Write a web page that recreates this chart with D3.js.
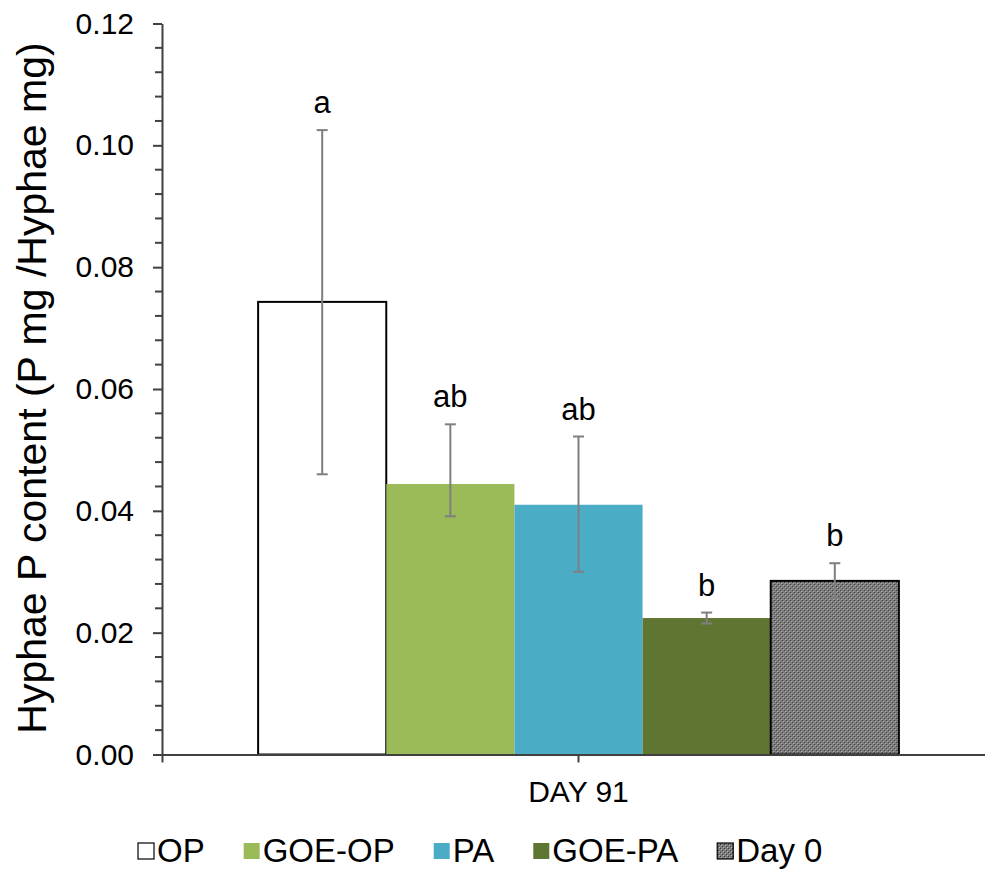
<!DOCTYPE html>
<html>
<head>
<meta charset="utf-8">
<script src="https://cdn.jsdelivr.net/npm/d3@7"></script>
<style>
  body { margin: 0; background: #fff; }
  text { font-family: "Liberation Sans", Arial, sans-serif; fill: #000; }
</style>
</head>
<body>
<div id="chart"></div>
<script>
// data
const category = 'DAY 91';
const series = ['OP', 'GOE-OP', 'PA', 'GOE-PA', 'Day 0'];
const means = [0.0743, 0.0444, 0.0410, 0.0224, 0.0285];
const errUp = [0.0282, 0.0098, 0.0112, 0.0009, 0.0029];
const errDown = [0.0283, 0.0053, 0.0110, 0.0009, 0.0028];
const letters = ['a', 'ab', 'ab', 'b', 'b'];
const yTicks = [0, 0.02, 0.04, 0.06, 0.08, 0.10, 0.12];

const colors = ['#ffffff', '#9bbb59', '#4bacc6', '#5f7532', 'url(#dots)'];
const strokes = ['#000', 'none', 'none', 'none', '#000'];

const width = 985;
const height = 870;
const margin = { top: 23.5, right: -10, bottom: 115.5, left: 162 };

const svg = d3.select('#chart')
  .append('svg')
  .attr('width', width)
  .attr('height', height);

// fine grey dotted fill for Day 0
const pat = svg.append('defs').append('pattern')
  .attr('id', 'dots')
  .attr('width', 4).attr('height', 4)
  .attr('patternUnits', 'userSpaceOnUse');
pat.append('rect').attr('width', 4).attr('height', 4).attr('fill', '#7c7c7c');
pat.append('rect').attr('x', 0).attr('y', 0).attr('width', 1).attr('height', 1).attr('fill', '#383838');
pat.append('rect').attr('x', 2).attr('y', 2).attr('width', 1).attr('height', 1).attr('fill', '#383838');
pat.append('rect').attr('x', 1).attr('y', 1).attr('width', 1).attr('height', 1).attr('fill', '#b4b4b4');
pat.append('rect').attr('x', 3).attr('y', 3).attr('width', 1).attr('height', 1).attr('fill', '#b4b4b4');

const x0 = d3.scaleBand()
  .domain([category])
  .range([margin.left, width - margin.right])
  .paddingInner(0)
  .paddingOuter(0.15);

const x1 = d3.scaleBand()
  .domain(series)
  .range([0, x0.bandwidth()]);

const y = d3.scaleLinear()
  .domain([0, 0.12])
  .range([height - margin.bottom, margin.top]);

const rows = series.map((s, i) => ({
  name: s, v: means[i], up: errUp[i], down: errDown[i], letter: letters[i],
  fill: colors[i], stroke: strokes[i]
}));

// bars
const g = svg.append('g').attr('transform', `translate(${x0(category)},0)`);

g.selectAll('.bar')
  .data(rows)
  .enter()
  .append('rect')
  .attr('class', 'bar')
  .attr('x', d => x1(d.name))
  .attr('y', d => y(d.v))
  .attr('width', x1.bandwidth())
  .attr('height', d => y(0) - y(d.v))
  .attr('fill', d => d.fill)
  .attr('stroke', d => d.stroke)
  .attr('stroke-width', 2);

// error bars
const eb = g.selectAll('.err')
  .data(rows)
  .enter()
  .append('g')
  .attr('class', 'err')
  .attr('stroke', '#7f7f7f')
  .attr('stroke-width', 2);

const cx = d => x1(d.name) + x1.bandwidth() / 2;
eb.append('line')
  .attr('x1', cx).attr('x2', cx)
  .attr('y1', d => y(d.v + d.up)).attr('y2', d => y(d.v - d.down));
eb.append('line')
  .attr('x1', d => cx(d) - 5.5).attr('x2', d => cx(d) + 5.5)
  .attr('y1', d => y(d.v + d.up)).attr('y2', d => y(d.v + d.up));
eb.append('line')
  .attr('x1', d => cx(d) - 5.5).attr('x2', d => cx(d) + 5.5)
  .attr('y1', d => y(d.v - d.down)).attr('y2', d => y(d.v - d.down));

// significance letters
g.selectAll('.letter')
  .data(rows)
  .enter()
  .append('text')
  .attr('class', 'letter')
  .attr('x', cx)
  .attr('y', d => y(d.v + d.up) - 17)
  .attr('text-anchor', 'middle')
  .style('font-size', '31px')
  .text(d => d.letter);

// y axis
const yAxis = svg.append('g')
  .attr('transform', `translate(${margin.left},0)`)
  .call(d3.axisLeft(y).tickValues(yTicks).tickFormat(d3.format('.2f')).tickSize(9).tickSizeOuter(0).tickPadding(19));
yAxis.selectAll('text').style('font-size', '30px');

// minor ticks
const minor = d3.range(0, 0.1201, 0.004).filter(v => Math.round(v * 1000) % 20 !== 0);
yAxis.selectAll('.minor')
  .data(minor)
  .enter()
  .append('line')
  .attr('class', 'minor')
  .attr('x1', -7).attr('x2', 0)
  .attr('y1', d => y(d)).attr('y2', d => y(d))
  .attr('stroke', '#404040').attr('stroke-width', 2);

// x axis
const xAxis = svg.append('g')
  .attr('transform', `translate(0,${y(0)})`)
  .call(d3.axisBottom(x0).tickSize(8).tickPadding(18));
xAxis.selectAll('text').style('font-size', '30px');

svg.selectAll('.domain, .tick line').attr('stroke', '#404040').attr('stroke-width', 2);

// y axis title
svg.append('text')
  .attr('transform', 'rotate(-90)')
  .attr('x', -388)
  .attr('y', 46)
  .attr('text-anchor', 'middle')
  .style('font-size', '41px')
  .text('Hyphae P content (P mg /Hyphae mg)');

// legend
const legend = svg.append('g').attr('class', 'legend');
let lx = 138;
rows.forEach(d => {
  legend.append('rect')
    .attr('x', lx).attr('y', 843)
    .attr('width', 16).attr('height', 16)
    .attr('fill', d.fill)
    .attr('stroke', d.name === 'OP' || d.name === 'Day 0' ? '#000' : 'none')
    .attr('stroke-width', 1.2);
  const t = legend.append('text')
    .attr('x', lx + 19).attr('y', 862)
    .style('font-size', '33px')
    .text(d.name);
  const w = t.node().getComputedTextLength();
  // slightly taller glyphs squeezed back to the same width
  t.style('font-size', '34px')
    .attr('textLength', w)
    .attr('lengthAdjust', 'spacingAndGlyphs');
  lx += 19 + w + 39;
});
</script>
</body>
</html>
